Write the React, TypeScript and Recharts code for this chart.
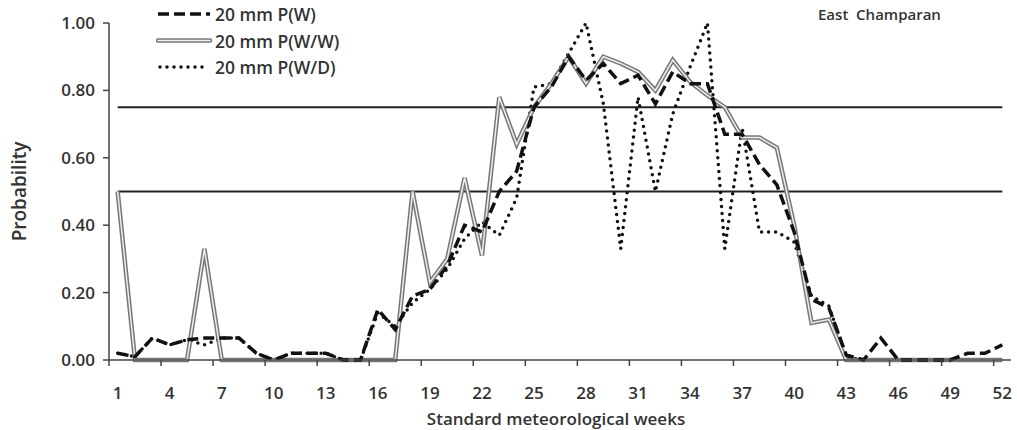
import { LineChart, Line, XAxis, YAxis, ReferenceLine, Legend } from 'recharts';

const weeks = [
  1, 2, 3, 4, 5, 6, 7, 8, 9, 10, 11, 12, 13, 14, 15, 16, 17, 18, 19, 20, 21, 22, 23, 24, 25, 26,
  27, 28, 29, 30, 31, 32, 33, 34, 35, 36, 37, 38, 39, 40, 41, 42, 43, 44, 45, 46, 47, 48, 49, 50, 51, 52,
];

// 20 mm P(W)
const pW = [
  0.02, 0.01, 0.065, 0.045, 0.06, 0.065, 0.065, 0.065, 0.02, 0, 0.02, 0.02, 0.02, 0, 0, 0.15, 0.09, 0.19,
  0.21, 0.28, 0.4, 0.38, 0.5, 0.56, 0.75, 0.81, 0.9, 0.83, 0.88, 0.82, 0.845, 0.76, 0.855, 0.82, 0.82,
  0.67, 0.67, 0.58, 0.52, 0.38, 0.18, 0.155, 0.015, 0, 0.065, 0, 0, 0, 0, 0.02, 0.02, 0.045,
];

// 20 mm P(W/W)
const pWW = [
  0.5, 0, 0, 0, 0, 0.33, 0, 0, 0, 0, 0, 0, 0, 0, 0, 0, 0, 0.5, 0.23, 0.3, 0.54, 0.31, 0.78, 0.64, 0.75,
  0.82, 0.9, 0.82, 0.9, 0.88, 0.855, 0.8, 0.89, 0.825, 0.785, 0.75, 0.66, 0.66, 0.63, 0.4, 0.11, 0.12,
  0, 0, 0, 0, 0, 0, 0, 0, 0, 0,
];

// 20 mm P(W/D)
const pWD = [
  0.02, 0.01, 0.065, 0.045, 0.06, 0.045, 0.065, 0.065, 0.02, 0, 0.02, 0.02, 0.02, 0, 0, 0.14, 0.1, 0.17,
  0.21, 0.27, 0.36, 0.41, 0.37, 0.48, 0.81, 0.82, 0.91, 1.0, 0.76, 0.33, 0.78, 0.5, 0.73, 0.87, 1.0, 0.33,
  0.69, 0.38, 0.38, 0.35, 0.19, 0.16, 0.01, 0, 0, 0, 0, 0, 0, 0, 0, 0,
];

const weekTicks = [1, 4, 7, 10, 13, 16, 19, 22, 25, 28, 31, 34, 37, 40, 43, 46, 49, 52];
const probTicks = [0, 0.2, 0.4, 0.6, 0.8, 1];
const thresholds = [0.75, 0.5];

const data = weeks.map((week, i) => ({ week, pW: pW[i], pWW: pWW[i], pWD: pWD[i] }));

const FONT = "'Open Sans', sans-serif";
const INK = '#333';
const PLOT_W = 902;
const HALF = PLOT_W / 52 / 2;

function WeekTick(props: any) {
  const { x, y, payload } = props;
  const axisY = y - 22;
  return (
    <g>
      <line x1={x - HALF} x2={x - HALF} y1={axisY} y2={axisY + 6} stroke="#444" strokeWidth={1.5} />
      <text x={x} y={axisY + 32} dominantBaseline="central" textAnchor="middle" fill={INK} fontSize={17} fontWeight={600} fontFamily={FONT}>
        {payload.value}
      </text>
    </g>
  );
}

function XTitle(props: any) {
  const { viewBox } = props;
  return (
    <text x={viewBox.x + viewBox.width / 2 - 4} y={418} dominantBaseline="central" textAnchor="middle" fill={INK} fontSize={17} fontWeight={600} fontFamily={FONT}>
      Standard meteorological weeks
    </text>
  );
}

function YTitle(props: any) {
  const { viewBox } = props;
  const cy = viewBox.y + viewBox.height / 2;
  return (
    <text x={19} y={cy} transform={`rotate(-90, 19, ${cy})`} dominantBaseline="central" textAnchor="middle" fill={INK} fontSize={19} fontWeight={600} fontFamily={FONT}>
      Probability
    </text>
  );
}

function LegendBox() {
  const rows = [
    { label: '20 mm P(W)', kind: 'dash' },
    { label: '20 mm P(W/W)', kind: 'double' },
    { label: '20 mm P(W/D)', kind: 'dot' },
  ];
  return (
    <svg width={280} height={80}>
      {rows.map((r, i) => {
        const y = 12 + i * 26.5;
        return (
          <g key={r.label}>
            {r.kind === 'dash' && (
              <line x1={2} x2={54} y1={y} y2={y} stroke="#111" strokeWidth={3.5} strokeDasharray="11 5" />
            )}
            {r.kind === 'double' && (
              <g>
                <line x1={2} x2={54} y1={y} y2={y} stroke="#777" strokeWidth={4.5} strokeLinecap="round" />
                <line x1={2} x2={54} y1={y} y2={y} stroke="#eee" strokeWidth={1.5} strokeLinecap="round" />
              </g>
            )}
            {r.kind === 'dot' && (
              <line x1={4} x2={52} y1={y} y2={y} stroke="#111" strokeWidth={3.5} strokeLinecap="round" strokeDasharray="0 7" />
            )}
            <text x={59} y={y} dominantBaseline="central" fill={INK} fontSize={17.5} fontWeight={600} fontFamily={FONT}>
              {r.label}
            </text>
          </g>
        );
      })}
    </svg>
  );
}

export default function App() {
  return (
    <div style={{ position: 'absolute', left: 0, top: 0, width: 1017, height: 430, background: '#fff' }}>
      <LineChart width={1017} height={430} data={data} margin={{ top: 23, right: 6, left: 0, bottom: 0 }}>
        <XAxis
          dataKey="week"
          type="number"
          domain={[0.5, 52.5]}
          ticks={weekTicks}
          interval={0}
          height={70}
          tickSize={6}
          tickMargin={16}
          tickLine={{ stroke: 'none' }}
          axisLine={{ stroke: '#444', strokeWidth: 1.5 }}
          tick={<WeekTick />}
          label={<XTitle />}
        />
        <YAxis
          width={109}
          domain={[0, 1]}
          ticks={probTicks}
          interval={0}
          tickFormatter={(v: number) => v.toFixed(2)}
          tickSize={6}
          tickMargin={8}
          tickLine={{ stroke: '#444', strokeWidth: 1.5 }}
          axisLine={{ stroke: '#444', strokeWidth: 1.5 }}
          tick={{ fill: INK, fontSize: 17, fontWeight: 600, fontFamily: FONT }}
          label={<YTitle />}
        />
        {thresholds.map((t) => (
          <ReferenceLine
            key={t}
            segment={[
              { x: 1, y: t },
              { x: 52, y: t },
            ]}
            stroke="#222"
            strokeWidth={2}
          />
        ))}
        <Legend
          layout="vertical"
          verticalAlign="middle"
          align="center"
          wrapperStyle={{ left: 156, top: 2, width: 280, height: 80 }}
          content={() => <LegendBox />}
        />
        <Line dataKey="pWD" stroke="#111" strokeWidth={3.5} strokeLinecap="round" strokeDasharray="0 7" dot={false} isAnimationActive={false} />
        <Line dataKey="pWW" stroke="#777" strokeWidth={4.5} dot={false} isAnimationActive={false} legendType="none" />
        <Line dataKey="pWW" stroke="#eee" strokeWidth={1.5} dot={false} isAnimationActive={false} legendType="none" />
        <Line dataKey="pW" stroke="#111" strokeWidth={3.5} strokeDasharray="11 5" dot={false} isAnimationActive={false} />
      </LineChart>
      <div
        style={{
          position: 'absolute',
          left: 818,
          top: 4,
          fontFamily: FONT,
          fontSize: 15,
          fontWeight: 600,
          color: INK,
          whiteSpace: 'nowrap',
        }}
      >
        East&nbsp; Champaran
      </div>
    </div>
  );
}
